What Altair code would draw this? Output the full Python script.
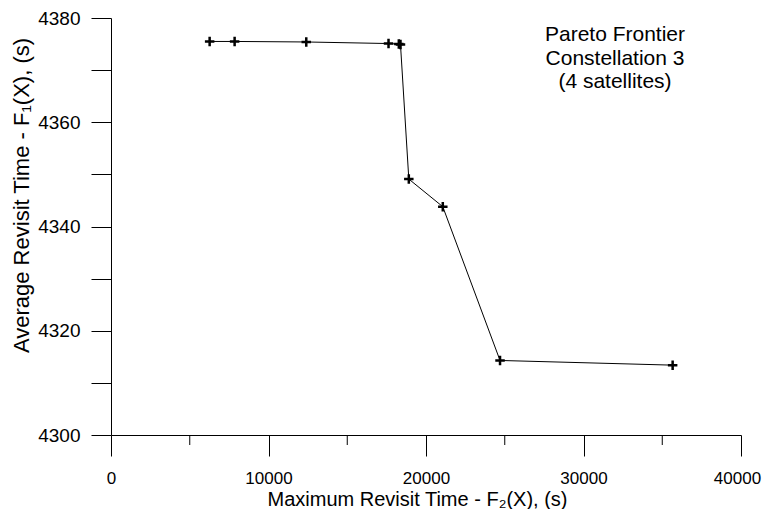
import altair as alt
import pandas as pd

# Pareto frontier points (Maximum revisit time F2, Average revisit time F1)
max_revisit = [6263, 7849, 12398, 17621, 18274, 18380, 18909, 21066, 24700, 35660]
avg_revisit = [4375.5, 4375.5, 4375.4, 4375.1, 4375.0, 4374.9, 4349.1, 4343.8, 4314.3, 4313.4]

x_major = [0, 10000, 20000, 30000, 40000]
x_minor = [5000, 15000, 25000, 35000]
y_ticks = [4300, 4310, 4320, 4330, 4340, 4350, 4360, 4370, 4380]
note_lines = ["Pareto Frontier", "Constellation 3", "(4 satellites)"]

FONT = "Liberation Sans"
W, H = 630, 417

df = pd.DataFrame({"x": max_revisit, "y": avg_revisit, "order": list(range(len(max_revisit)))})
minor_df = pd.DataFrame({"x": x_minor})

x_scale = alt.Scale(domain=[0, 40000], nice=False, zero=False)
y_scale = alt.Scale(domain=[4300, 4380], nice=False, zero=False)

x_axis = alt.Axis(
    values=x_major, format="d", grid=False, tickSize=21, tickColor="black",
    domainColor="black", labelFont=FONT, labelFontSize=17, labelColor="black",
    labelPadding=14, labelFlush=False,
    labelOffset=alt.expr("datum.value == 40000 ? -4 : 0"),
    title="Maximum Revisit Time - F₂(X),  (s)", titleFont=FONT, titleFontSize=20,
    titleFontWeight="normal", titleColor="black", titleX=306, titleY=64,
    titleAnchor="middle", titleBaseline="middle", titleAlign="center",
)
y_axis = alt.Axis(
    values=y_ticks, format="d", labelExpr="datum.value % 20 == 0 ? datum.label : ''",
    grid=False, tickSize=20, tickColor="black", domainColor="black",
    labelFont=FONT, labelFontSize=19, labelColor="black", labelPadding=11,
    title="Average Revisit Time - F₁(X),  (s)", titleFont=FONT, titleFontSize=22,
    titleFontWeight="normal", titleColor="black", titleX=-90, titleY=177,
    titleAngle=-90, titleAlign="center", titleBaseline="middle",
)

line = alt.Chart(df).mark_line(color="black", strokeWidth=1).encode(
    x=alt.X("x:Q", scale=x_scale, axis=x_axis),
    y=alt.Y("y:Q", scale=y_scale, axis=y_axis),
    order="order:Q",
)

cross_path = "M-1,0L1,0M0,-1L0,1"
points = alt.Chart(df).mark_point(
    shape=cross_path, filled=False, color="black", strokeWidth=2.5, size=90, opacity=1
).encode(
    x=alt.X("x:Q", scale=x_scale),
    y=alt.Y("y:Q", scale=y_scale),
)

minor = alt.Chart(minor_df).mark_rule(color="black", strokeWidth=1).encode(
    x=alt.X("x:Q", scale=x_scale),
    y=alt.value(H),
    y2=alt.value(H + 10),
)

note_layers = [
    alt.Chart(pd.DataFrame({"text": [t]})).mark_text(
        font=FONT, fontSize=21, color="black", align="center", baseline="middle"
    ).encode(x=alt.value(504), y=alt.value(yy), text="text:N")
    for t, yy in zip(note_lines, [17, 41, 64])
]

chart = alt.layer(line, points, minor, *note_layers).properties(
    width=W, height=H,
    autosize=alt.AutoSizeParams(type="none"),
    padding={"left": 103, "top": 10, "right": 22, "bottom": 74},
).configure_view(stroke=None)

chart.save("out.html", embed_options={"renderer": "svg", "actions": False})
